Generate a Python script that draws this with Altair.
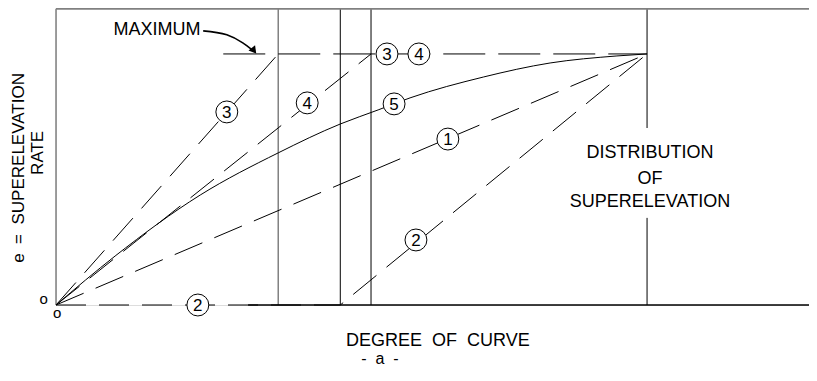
import altair as alt
import pandas as pd

# Axes extents (relative units: degree of curve 100 = D max, rate 1 = e max)
x_domain = [0, 127.4]
y_domain = [0, 1.183]

# Design lines (methods 1-4, dashed) and maximum rate
m1_x, m1_y = [0, 100], [0, 1]
m2_x, m2_y = [0, 48.1, 100], [0, 0, 1]
m3_x, m3_y = [0, 37.6], [0, 1]
m4_x, m4_y = [0, 53.3], [0, 1]
max_x, max_y = [28.3, 100], [1, 1]
# Method 5 (solid curve)
m5_x = [0, 10, 24.4, 37.6, 48.1, 54.5, 59.9, 72.3, 83.6, 94.9, 100]
m5_y = [0, 0.195, 0.438, 0.606, 0.721, 0.777, 0.825, 0.908, 0.964, 0.992, 1.0]

# Circled labels
label_text = ["3", "4", "3", "4", "5", "1", "2", "2"]
label_x = [28.9, 42.5, 56.0, 61.4, 57.2, 66.3, 60.9, 24.0]
label_y = [0.769, 0.805, 1.0, 1.0, 0.801, 0.661, 0.259, 0.0]

# Frame / reference lines
gray_vx = [0, 37.6]
gray_vy, gray_vy2 = [0, 0], [1.18, 1.18]
black_vx = [48.1, 53.3, 100, 100]
black_vy = [0, 0, 0, 0.705]
black_vy2 = [1.18, 1.18, 0.347, 1.18]
top_line = {"x": [0], "x2": [127.4], "y": [1.18]}
bottom_line = {"x": [32.5], "x2": [127.4], "y": [0]}

# Arrow from "MAXIMUM"
arrow_x = [24.9, 28.9, 31.6, 33.2]
arrow_y = [1.092, 1.076, 1.044, 1.016]
arrow_head_x, arrow_head_y = [33.5], [1.013]

# Annotation texts
NB = "\u00a0"
ann_text = ["MAXIMUM", "DISTRIBUTION", "OF", "SUPERELEVATION",
            f"DEGREE{NB}{NB}OF{NB}{NB}CURVE", f"-{NB}{NB}a{NB}{NB}-", "o", "o"]
ann_x = [17.1, 100.5, 100.5, 100.5, 64.6, 54.8, -2.1, 0.2]
ann_y = [1.096, 0.606, 0.50, 0.412, -0.143, -0.215, 0.025, -0.03]
ann_size = [18, 18, 18, 18, 18, 16, 15, 15]

ytitle_text = [f"e{NB}{NB}={NB}{NB}SUPERELEVATION", "RATE"]
ytitle_x = [-6.25, -3.05]
ytitle_y = [0.546, 0.606]

FONT = "Liberation Sans"

xs = alt.Scale(domain=x_domain, nice=False, zero=False)
ys = alt.Scale(domain=y_domain, nice=False, zero=False)


def lines_df(series):
    rows = []
    for name, xv, yv in series:
        for i, (a, b) in enumerate(zip(xv, yv)):
            rows.append({"line": name, "X": a, "Y": b, "o": i})
    return pd.DataFrame(rows)


dashed_df = lines_df([("1", m1_x, m1_y), ("2", m2_x, m2_y),
                      ("3", m3_x, m3_y), ("4", m4_x, m4_y)])
max_df = lines_df([("max", max_x, max_y)])
m5_df = lines_df([("5", m5_x, m5_y)])
arrow_df = lines_df([("arrow", arrow_x, arrow_y)])

X = alt.X("X:Q", scale=xs, axis=None)
Y = alt.Y("Y:Q", scale=ys, axis=None)

dashed = alt.Chart(dashed_df).mark_line(
    color="black", strokeWidth=1, strokeDash=[30, 13]
).encode(x=X, y=Y, detail="line:N", order="o:Q")

max_line = alt.Chart(max_df).mark_line(
    color="black", strokeWidth=1, strokeDash=[42, 13]
).encode(x=X, y=Y, detail="line:N", order="o:Q")

solid = alt.Chart(m5_df).mark_line(
    color="black", strokeWidth=1, interpolate="monotone"
).encode(x=X, y=Y, order="o:Q")

gray_df = pd.DataFrame({"X": gray_vx, "Y": gray_vy, "Y2": gray_vy2})
gray_rules = alt.Chart(gray_df).mark_rule(color="#808080", strokeWidth=1.5).encode(
    x=X, y=Y, y2="Y2:Q")

black_df = pd.DataFrame({"X": black_vx, "Y": black_vy, "Y2": black_vy2})
black_rules = alt.Chart(black_df).mark_rule(color="black", strokeWidth=1).encode(
    x=X, y=Y, y2="Y2:Q")

top_df = pd.DataFrame({"X": top_line["x"], "X2": top_line["x2"], "Y": top_line["y"]})
top_rule = alt.Chart(top_df).mark_rule(color="#808080", strokeWidth=2).encode(
    x=X, x2="X2:Q", y=Y)

bot_df = pd.DataFrame({"X": bottom_line["x"], "X2": bottom_line["x2"], "Y": bottom_line["y"]})
bot_rule = alt.Chart(bot_df).mark_rule(color="black", strokeWidth=1.5).encode(
    x=X, x2="X2:Q", y=Y)

lab_df = pd.DataFrame({"t": label_text, "X": label_x, "Y": label_y})
circles = alt.Chart(lab_df).mark_point(
    shape="circle", size=480, filled=True, fill="white", stroke="black",
    strokeWidth=1, opacity=1
).encode(x=X, y=Y)
circle_txt = alt.Chart(lab_df).mark_text(
    font=FONT, fontSize=17, color="black", baseline="middle", align="center", dy=1
).encode(x=X, y=Y, text="t:N")

arrow = alt.Chart(arrow_df).mark_line(
    color="black", strokeWidth=1.6, interpolate="monotone"
).encode(x=X, y=Y, order="o:Q")
head_df = pd.DataFrame({"X": arrow_head_x, "Y": arrow_head_y})
arrow_head = alt.Chart(head_df).mark_point(
    shape="triangle-right", size=70, filled=True, color="black", angle=52, opacity=1
).encode(x=X, y=Y)

ann_df = pd.DataFrame({"t": ann_text, "X": ann_x, "Y": ann_y, "s": ann_size})
ann = alt.Chart(ann_df).mark_text(
    font=FONT, color="black", baseline="middle", align="center"
).encode(x=X, y=Y, text="t:N", size=alt.Size("s:Q", scale=None, legend=None))

yt_df = pd.DataFrame({"t": ytitle_text, "X": ytitle_x, "Y": ytitle_y})
ytitle = alt.Chart(yt_df).mark_text(
    font=FONT, fontSize=17, color="black", baseline="middle", align="center", angle=270
).encode(x=X, y=Y, text="t:N")

chart = alt.layer(
    gray_rules, black_rules, top_rule, bot_rule, dashed, max_line, solid,
    circles, circle_txt, arrow, arrow_head, ann, ytitle
).properties(
    width=753, height=297,
    padding={"left": 48, "top": 0, "right": 0, "bottom": 63},
    autosize=alt.AutoSizeParams(type="none"),
).configure_view(stroke=None).configure(background="white")

chart.save("out.html", embed_options={"renderer": "svg", "actions": False})
